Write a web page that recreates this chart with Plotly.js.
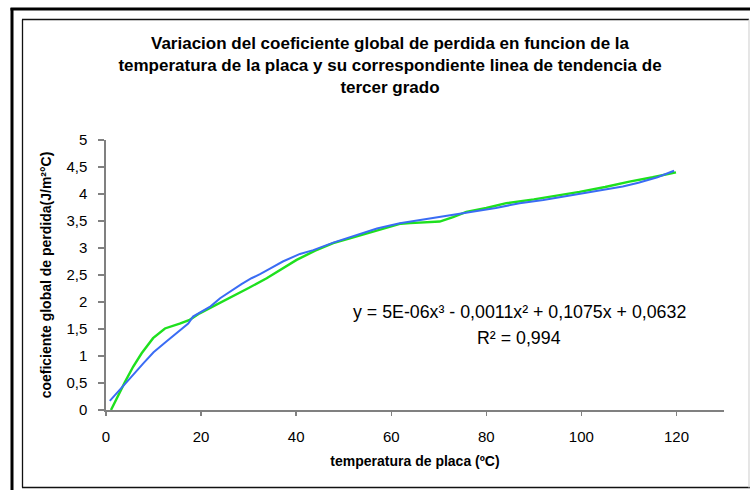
<!DOCTYPE html>
<html>
<head>
<meta charset="utf-8">
<script src="https://cdn.plot.ly/plotly-3.0.1.min.js"></script>
<style>
  html, body { margin: 0; padding: 0; background: #ffffff; }
  #chart { width: 750px; height: 490px; }
</style>
</head>
<body>
<div id="chart"></div>
<script>
// ---- data ----
const blueX = [0.8, 2.9, 5, 7.8, 10, 12.7, 15, 17.3, 18.3, 19.7, 22, 24, 26.7, 28.5, 30.6, 32.5, 34.5, 37.2, 40.8, 43.6, 47.8, 51.3, 53.4, 57, 61.8, 66, 70.2, 73, 77.2, 82, 87, 92, 98.2, 103, 108.7, 112, 116, 119.5];
const blueY = [0.17, 0.37, 0.58, 0.86, 1.07, 1.27, 1.43, 1.60, 1.73, 1.80, 1.92, 2.07, 2.23, 2.33, 2.44, 2.52, 2.62, 2.75, 2.89, 2.96, 3.10, 3.20, 3.27, 3.36, 3.46, 3.52, 3.58, 3.62, 3.67, 3.74, 3.83, 3.89, 3.98, 4.05, 4.14, 4.21, 4.31, 4.43];

const greenX = [1.05, 2.5, 4.0, 5.7, 7.5, 9.9, 12.4, 15.5, 17.6, 19.7, 23, 26.7, 30, 33.8, 37, 40.1, 44, 47.8, 51.3, 55, 59, 62, 64, 67, 70.2, 73, 75.8, 80, 84.2, 90, 95, 99.6, 105, 110.1, 115, 119.9];
const greenY = [0, 0.27, 0.52, 0.80, 1.05, 1.33, 1.51, 1.60, 1.67, 1.79, 1.94, 2.10, 2.26, 2.44, 2.62, 2.78, 2.95, 3.09, 3.18, 3.27, 3.37, 3.45, 3.46, 3.47, 3.49, 3.57, 3.67, 3.74, 3.83, 3.90, 3.97, 4.04, 4.13, 4.23, 4.31, 4.40];

const xTickVals = [0, 20, 40, 60, 80, 100, 120];
const yTickVals = [0, 0.5, 1, 1.5, 2, 2.5, 3, 3.5, 4, 4.5, 5];

const titleLines = [
  "Variacion del coeficiente global de perdida en funcion de la",
  "temperatura de la placa y su correspondiente linea de tendencia de",
  "tercer grado"
];
const xTitle = "temperatura de placa (ºC)";
const yTitle = "coeficiente global de perdida(J/m²°C)";
const eqText = "y = 5E-06x³ - 0,0011x² + 0,1075x + 0,0632";
const r2Text = "R² = 0,994";

// ---- layout geometry (pixels) ----
const W = 750, H = 490;
const L = 106, R = 26, T = 140, B = 80;
const PW = W - L - R, PH = H - T - B;
const px = x => (x - L) / PW;
const py = y => (H - B - y) / PH;

const FONT = '"Liberation Sans", Arial, sans-serif';

const traces = [
  {
    x: greenX, y: greenY, type: 'scatter', mode: 'lines',
    line: { color: '#1ee01e', width: 2.4 }, hoverinfo: 'skip', showlegend: false
  },
  {
    x: blueX, y: blueY, type: 'scatter', mode: 'lines',
    line: { color: '#3a6cf4', width: 2 }, hoverinfo: 'skip', showlegend: false
  }
];

const frameShapes = [
  // outer thick frame (left and top)
  { type: 'line', xref: 'paper', yref: 'paper', x0: px(12), x1: px(12), y0: py(8), y1: py(495), line: { color: '#000', width: 3 } },
  { type: 'line', xref: 'paper', yref: 'paper', x0: px(10.5), x1: px(755), y0: py(9), y1: py(9), line: { color: '#000', width: 3 } },
  // inner frame
  { type: 'line', xref: 'paper', yref: 'paper', x0: px(22.5), x1: px(22.5), y0: py(19.5), y1: py(487.5), line: { color: '#111', width: 1.3 } },
  { type: 'line', xref: 'paper', yref: 'paper', x0: px(22), x1: px(749), y0: py(19.5), y1: py(19.5), line: { color: '#111', width: 1.3 } },
  { type: 'line', xref: 'paper', yref: 'paper', x0: px(22), x1: px(750), y0: py(487.5), y1: py(487.5), line: { color: '#111', width: 1.5 } },
  { type: 'line', xref: 'paper', yref: 'paper', x0: px(749), x1: px(749), y0: py(19.5), y1: py(487.5), line: { color: '#d8d8d8', width: 1.3 } }
];

const layout = {
  width: W, height: H,
  margin: { l: L, r: R, t: T, b: B, pad: 0 },
  paper_bgcolor: '#ffffff', plot_bgcolor: '#ffffff',
  separators: ',.',
  font: { family: FONT, color: '#000000', size: 15 },
  showlegend: false,
  title: {
    text: titleLines.join('<br>'),
    font: { family: FONT, size: 17, color: '#000000', weight: 'bold' },
    x: 390 / W, xanchor: 'center', xref: 'container',
    y: 1 - 49 / H, yanchor: 'top', yref: 'container'
  },
  xaxis: {
    range: [0, 130], tickmode: 'array', tickvals: xTickVals,
    ticks: 'outside', ticklen: 4, tickwidth: 1.3, tickcolor: '#808080',
    showline: true, linecolor: '#808080', linewidth: 1.6,
    showgrid: false, zeroline: false, ticklabelstandoff: 8,
    tickfont: { family: FONT, size: 15, color: '#000' },
    title: { text: xTitle, font: { family: FONT, size: 14, color: '#000', weight: 'bold' }, standoff: 12 },
    automargin: false, fixedrange: true
  },
  yaxis: {
    range: [0, 5], tickmode: 'array', tickvals: yTickVals,
    ticks: 'outside', ticklen: 6, tickwidth: 1.3, tickcolor: '#808080',
    showline: true, linecolor: '#808080', linewidth: 1.6,
    showgrid: false, zeroline: false, ticklabelstandoff: 8,
    tickfont: { family: FONT, size: 15, color: '#000' },
    title: { text: yTitle, font: { family: FONT, size: 14, color: '#000', weight: 'bold' }, standoff: 11 },
    automargin: false, fixedrange: true
  },
  annotations: [
    { text: eqText, xref: 'paper', yref: 'paper', x: px(519), y: py(312), xanchor: 'center', yanchor: 'middle', showarrow: false, font: { family: FONT, size: 17.8, color: '#000' } },
    { text: r2Text, xref: 'paper', yref: 'paper', x: px(519), y: py(338), xanchor: 'center', yanchor: 'middle', showarrow: false, font: { family: FONT, size: 17.8, color: '#000' } }
  ],
  shapes: frameShapes
};

Plotly.newPlot('chart', traces, layout, { staticPlot: true, displayModeBar: false });
</script>
</body>
</html>
